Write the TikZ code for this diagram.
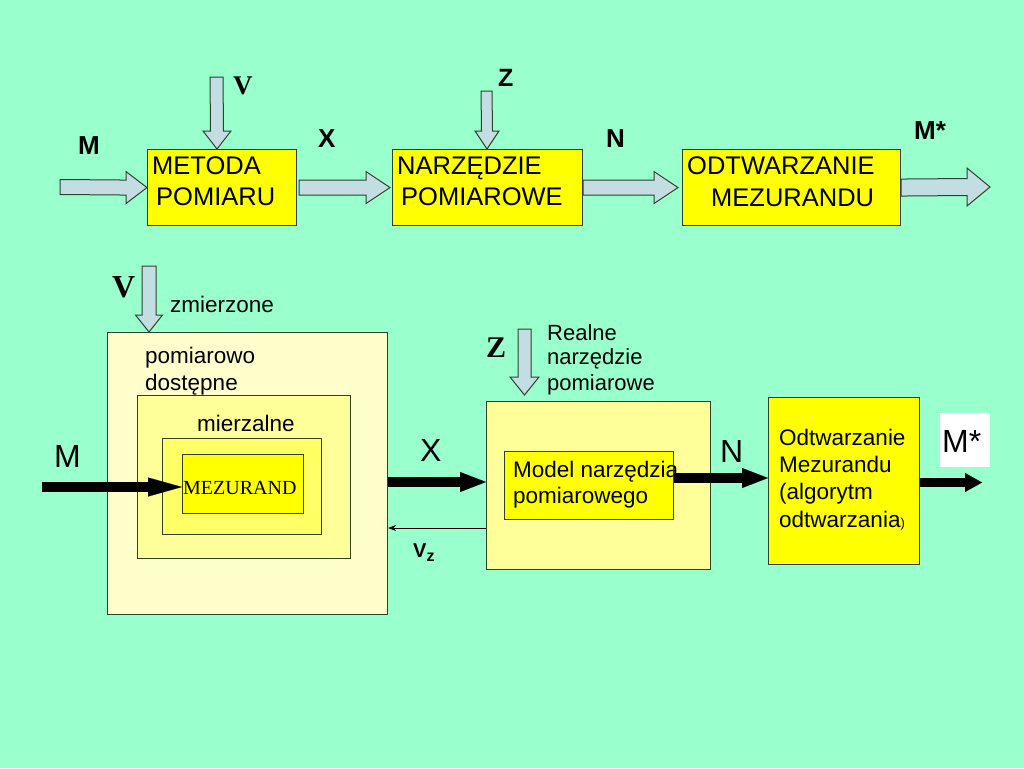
\documentclass[tikz,border=0pt]{standalone}
\usepackage{fontspec}
\setmainfont{Liberation Sans}
\newfontfamily\serifb{Liberation Serif}
\usetikzlibrary{calc,arrows.meta}
\definecolor{bgmint}{RGB}{153,255,204}
\definecolor{barfill}{RGB}{194,222,226}
\definecolor{edgecol}{RGB}{45,65,45}
\definecolor{paleA}{RGB}{255,255,204}
\definecolor{paleB}{RGB}{255,255,153}
\definecolor{paleC}{RGB}{255,255,102}
\definecolor{fullY}{RGB}{255,255,0}
\newcommand\hblock[5]{\draw[blockarr] ($(#1)+(0,-#3)$) -- ($(#2)+(-#5,-#3)$) -- ($(#2)+(-#5,-#4)$) -- (#2) -- ($(#2)+(-#5,#4)$) -- ($(#2)+(-#5,#3)$) -- ($(#1)+(0,#3)$) -- cycle;}
\newcommand\vblock[5]{\draw[blockarr] ($(#1)+(-#3,0)$) -- ($(#2)+(-#3,-#5)$) -- ($(#2)+(-#4,-#5)$) -- (#2) -- ($(#2)+(#4,-#5)$) -- ($(#2)+(#3,-#5)$) -- ($(#1)+(#3,0)$) -- cycle;}
\tikzset{
  blockarr/.style={draw=edgecol, fill=barfill, line width=1pt, line join=miter},
  boxA/.style={draw=edgecol, line width=1.1pt, anchor=north west, inner sep=0pt},
  lbl/.style={inner sep=0pt, anchor=base west, text=black},
  bigarr/.style={line width=10pt, black},
  sz/.style={font=\fontsize{#1}{#1}\selectfont},
  szb/.style={font=\bfseries\fontsize{#1}{#1}\selectfont},
  szs/.style={font=\serifb\bfseries\fontsize{#1}{#1}\selectfont},
}
\begin{document}
\begin{tikzpicture}[x=1pt,y=-1pt]
\fill[bgmint] (0,0) rectangle (1024,768);
\useasboundingbox (0,0) rectangle (1024,768);

% ---------- top row ----------
\node[boxA, fill=fullY, minimum width=149pt, minimum height=76pt] (b1) at (147,149) {};
\node[boxA, fill=fullY, minimum width=190pt, minimum height=76pt] (b2) at (392,149) {};
\node[boxA, fill=fullY, minimum width=218pt, minimum height=76pt] (b3) at (682,149) {};

\node[lbl, sz=25.5] (t1a) at (152,174) {METODA};
\node[lbl, sz=25.5] (t1b) at (156,205) {POMIARU};
\node[lbl, sz=25.5] (t2a) at (397,174) {NARZĘDZIE};
\node[lbl, sz=25.5] (t2b) at (401,205) {POMIAROWE};
\node[lbl, sz=25.5] (t3a) at (687,174) {ODTWARZANIE};
\node[lbl, sz=25.5] (t3b) at (711,206) {MEZURANDU};

\coordinate (mIn) at (60,187);
\coordinate (x1) at ($(b1.east)+(2,0)$);
\coordinate (x2) at ($(b2.west)+(-2,0)$);
\coordinate (n2) at ($(b3.west)+(-4,0)$);
\coordinate (msOut) at (990,187);
\coordinate (vTop) at (216.5,77);
\coordinate (vTip) at ($(b1.north west)+(70,0)$);
\coordinate (zTop) at (486.5,91);
\coordinate (zTip) at ($(b2.north west)+(95,0)$);

\hblock{mIn}{b1.west}{7.5}{16}{21}
\hblock{x1}{x2}{7.5}{16}{24}
\hblock{b2.east}{n2}{7.5}{16}{24}
\hblock{b3.east}{msOut}{8.5}{19}{23}
\vblock{vTop}{vTip}{6.5}{14}{18}
\vblock{zTop}{zTip}{5.5}{12}{18}

\node[lbl, szb=26] (lM) at (78,154) {M};
\node[lbl, szs=27] (lV) at (233,94) {V};
\node[lbl, szb=26] (lX) at (318,147) {X};
\node[lbl, szb=25] (lZ) at (498,86) {Z};
\node[lbl, szb=26] (lN) at (606,147) {N};
\node[lbl, szb=26] (lMs) at (914,139) {M*};

% ---------- bottom ----------
\node[boxA, fill=paleA, minimum width=280pt, minimum height=282pt] (o1) at (107,332) {};
\node[boxA, fill=paleB, minimum width=213pt, minimum height=163pt] (o2) at (137,395) {};
\node[boxA, fill=paleC, minimum width=159pt, minimum height=96pt] (o3) at (162,438) {};
\node[boxA, fill=fullY, minimum width=121pt, minimum height=59pt] (mz) at (182,454) {};
\node[boxA, fill=paleB, minimum width=224pt, minimum height=168pt] (mb) at (486,401) {};
\node[boxA, fill=fullY, minimum width=169pt, minimum height=68pt] (mi) at (504,451) {};
\node[boxA, fill=fullY, minimum width=151pt, minimum height=167pt] (od) at (768,397) {};
\node[anchor=north west, fill=white, inner sep=0pt, minimum width=50pt, minimum height=54pt] (wb) at (940,413) {};

\coordinate (vbTop) at (149,266);
\coordinate (vbTip) at ($(o1.north west)+(42,0)$);
\coordinate (zbTop) at (524.5,329);
\coordinate (zbTip) at ($(mb.north west)+(38.5,-6)$);
\vblock{vbTop}{vbTip}{7}{13.5}{17}
\vblock{zbTop}{zbTip}{6.5}{14.5}{18}

\node[lbl, szs=32] (lV2) at (112,297) {V};
\node[lbl, sz=22.5] (tz) at (170,312) {zmierzone};
\node[lbl, sz=22.5] (tp1) at (145,363) {pomiarowo};
\node[lbl, sz=22.5] (tp2) at (145,390) {dostępne};
\node[lbl, sz=22.5] (tmz) at (197,431) {mierzalne};
\node[lbl, font=\serifb\fontsize{20}{20}\selectfont] (tmzd) at (183,494) {MEZURAND};
\node[lbl, sz=32] (lM2) at (54,467) {M};
\node[lbl, szs=30] (lZ2) at (486,357) {Z};
\node[lbl, sz=22] (tr1) at (547,340) {Realne};
\node[lbl, sz=22] (tr2) at (547,364) {narzędzie};
\node[lbl, sz=22] (tr3) at (547,390) {pomiarowe};
\node[lbl, sz=32] (lX2) at (420,461) {X};
\node[lbl, sz=22.5] (tm1) at (513,477) {Model narzędzia};
\node[lbl, sz=22.5] (tm2) at (513,503) {pomiarowego};
\node[lbl, szb=20] (lVz) at (413,557) {V\raisebox{-4pt}{\fontsize{16}{16}\selectfont z}};
\node[lbl, sz=32] (lN2) at (720,462) {N};
\node[lbl, sz=22.5] (to1) at (779,445) {Odtwarzanie};
\node[lbl, sz=22.5] (to2) at (779,472) {Mezurandu};
\node[lbl, sz=22.5] (to3) at (779,499) {(algorytm};
\node[lbl, sz=22.5] (to4) at (779,527) {odtwarzania{\fontsize{13}{13}\selectfont)}};
\node[lbl, sz=32] (lMs2) at (942,452) {M*};

\coordinate (mstart) at (42,487);
\coordinate (xrow) at (0,482);
\coordinate (nrow) at (0,478);
\coordinate (srow) at (0,482.5);
\coordinate (mend) at (982,482.5);
\coordinate (vzrow) at (0,528);
\draw[bigarr, -{Triangle[length=34pt,width=19pt,line width=0.1pt]}] (mstart) -- (mstart -| mz.west);
\draw[bigarr, -{Triangle[length=26pt,width=20pt,line width=0.1pt]}] (o1.east |- xrow) -- (mb.west |- xrow);
\draw[bigarr, line width=9.5pt, -{Triangle[length=26pt,width=20pt,line width=0.1pt]}] (mi.east |- nrow) -- (od.west |- nrow);
\draw[bigarr, line width=9pt, -{Triangle[length=17pt,width=19pt,line width=0.1pt]}] (od.east |- srow) -- (mend);
\draw[line width=1pt, -{Stealth[length=8pt,width=6pt]}] (mb.west |- vzrow) -- (o1.east |- vzrow);
\end{tikzpicture}
\end{document}
